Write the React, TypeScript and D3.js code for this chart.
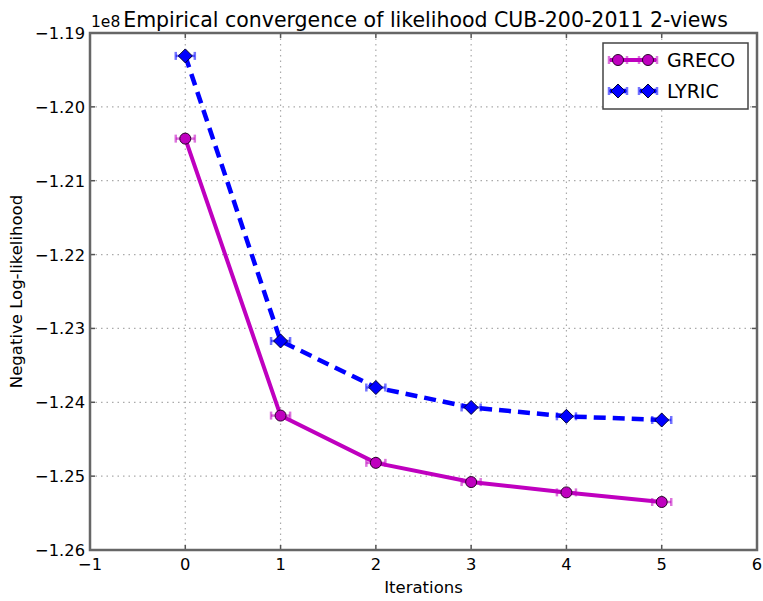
import React from 'react'
import * as d3 from 'd3'

const iterations = [0, 1, 2, 3, 4, 5]
const grecoValues = [-1.2043, -1.2418, -1.2482, -1.2508, -1.2522, -1.2535]
const lyricValues = [-1.1931, -1.2317, -1.238, -1.2407, -1.2419, -1.2424]
const xTicks = [-1, 0, 1, 2, 3, 4, 5, 6]
const yTicks = [-1.19, -1.2, -1.21, -1.22, -1.23, -1.24, -1.25, -1.26]
const xErr = 0.1

const W = 763
const H = 601
const margin = { left: 90, right: 6, top: 33, bottom: 51 }
const font = 'DejaVu Sans, sans-serif'

export default function App() {
  const x = d3.scaleLinear().domain([-1, 6]).range([margin.left, W - margin.right])
  const y = d3.scaleLinear().domain([-1.26, -1.19]).range([H - margin.bottom, margin.top])
  const line = d3
    .line<number>()
    .x((_, i) => x(iterations[i]))
    .y((d) => y(d))

  const errBars = (vals: number[], color: string) =>
    vals.map((v, i) => {
      const x0 = x(iterations[i] - xErr)
      const x1 = x(iterations[i] + xErr)
      const yy = y(v)
      return (
        <g key={i} stroke={color} strokeOpacity={0.55} strokeWidth={2.5}>
          <line x1={x0} x2={x1} y1={yy} y2={yy} />
          <line x1={x0} x2={x0} y1={yy - 4} y2={yy + 4} />
          <line x1={x1} x2={x1} y1={yy - 4} y2={yy + 4} />
        </g>
      )
    })

  const diamond = (cx: number, cy: number, key: number | string) => (
    <path
      key={key}
      d={`M${cx},${cy - 7}L${cx + 7},${cy}L${cx},${cy + 7}L${cx - 7},${cy}Z`}
      fill="#0000ff"
      stroke="#000033"
      strokeWidth={1}
    />
  )
  const circle = (cx: number, cy: number, key: number | string) => (
    <circle key={key} cx={cx} cy={cy} r={5.5} fill="#bf00bf" stroke="#2a002a" strokeWidth={1} />
  )

  const x0 = margin.left
  const x1 = W - margin.right
  const y0 = margin.top
  const y1 = H - margin.bottom

  return (
    <svg
      width={W}
      height={H}
      style={{ position: 'absolute', left: 0, top: 0, background: '#fff' }}
      fontFamily={font}
    >
      {/* grid */}
      <g stroke="#aaaaaa" strokeWidth={1.2} strokeDasharray="1.5,4">
        {xTicks.slice(1, -1).map((t) => (
          <line key={'gx' + t} x1={x(t)} x2={x(t)} y1={y0} y2={y1} />
        ))}
        {yTicks.slice(1, -1).map((t) => (
          <line key={'gy' + t} x1={x0} x2={x1} y1={y(t)} y2={y(t)} />
        ))}
      </g>

      {/* series */}
      {errBars(grecoValues, '#bf00bf')}
      <path d={line(grecoValues) || ''} fill="none" stroke="#bf00bf" strokeWidth={4} />
      {grecoValues.map((v, i) => circle(x(iterations[i]), y(v), i))}

      {errBars(lyricValues, '#0000ff')}
      <path
        d={line(lyricValues) || ''}
        fill="none"
        stroke="#0000ff"
        strokeWidth={4.5}
        strokeDasharray="12,7"
      />
      {lyricValues.map((v, i) => diamond(x(iterations[i]), y(v), i))}

      {/* frame and ticks */}
      <g stroke="#555" strokeWidth={1.5}>
        {xTicks.slice(1, -1).map((t) => (
          <g key={'tx' + t}>
            <line x1={x(t)} x2={x(t)} y1={y1} y2={y1 - 5} />
            <line x1={x(t)} x2={x(t)} y1={y0} y2={y0 + 5} />
          </g>
        ))}
        {yTicks.slice(1, -1).map((t) => (
          <g key={'ty' + t}>
            <line x1={x0} x2={x0 + 5} y1={y(t)} y2={y(t)} />
            <line x1={x1} x2={x1 - 5} y1={y(t)} y2={y(t)} />
          </g>
        ))}
      </g>
      <rect x={x0} y={y0} width={x1 - x0} height={y1 - y0} fill="none" stroke="#666" strokeWidth={2.5} />

      {/* tick labels */}
      <g fontSize={16.3} fill="#000">
        {xTicks.map((t) => (
          <text key={'lx' + t} x={x(t)} y={y1 + 20} textAnchor="middle">
            {d3.format('')(t).replace('-', '\u2212')}
          </text>
        ))}
        {yTicks.map((t) => (
          <text key={'ly' + t} x={x0 - 5} y={y(t) + 6} textAnchor="end">
            {d3.format('.2f')(t).replace('-', '\u2212')}
          </text>
        ))}
      </g>
      <text x={x0 + 1} y={y0 - 6} fontSize={15.5}>1e8</text>

      {/* title and labels */}
      <text x={(x0 + x1) / 2 + 2} y={y0 - 6} textAnchor="middle" fontSize={20.5}>
        Empirical convergence of likelihood CUB-200-2011 2-views
      </text>
      <text x={(x0 + x1) / 2} y={593} textAnchor="middle" fontSize={16.5}>
        Iterations
      </text>
      <text
        transform={`translate(22,${(y0 + y1) / 2}) rotate(-90)`}
        textAnchor="middle"
        fontSize={16.5}
      >
        Negative Log-likelihood
      </text>

      {/* legend */}
      <g>
        <rect x={603} y={43} width={145} height={66} fill="#fff" stroke="#444" strokeWidth={1.5} />
        <g stroke="#bf00bf" strokeOpacity={0.55} strokeWidth={2.5}>
          {[618, 648].map((cx) => (
            <g key={cx}>
              <line x1={cx - 9} x2={cx + 9} y1={60} y2={60} />
              <line x1={cx - 9} x2={cx - 9} y1={56} y2={64} />
              <line x1={cx + 9} x2={cx + 9} y1={56} y2={64} />
            </g>
          ))}
        </g>
        <line x1={610} x2={656} y1={60} y2={60} stroke="#bf00bf" strokeWidth={4} />
        {circle(618, 60, 'lg1')}
        {circle(648, 60, 'lg2')}
        <text x={667} y={67} fontSize={19}>GRECO</text>

        <g stroke="#0000ff" strokeOpacity={0.55} strokeWidth={2.5}>
          {[618, 648].map((cx) => (
            <g key={cx}>
              <line x1={cx - 9} x2={cx + 9} y1={91} y2={91} />
              <line x1={cx - 9} x2={cx - 9} y1={87} y2={95} />
              <line x1={cx + 9} x2={cx + 9} y1={87} y2={95} />
            </g>
          ))}
        </g>
        <line x1={610} x2={626} y1={91} y2={91} stroke="#0000ff" strokeWidth={4.5} />
        <line x1={640} x2={656} y1={91} y2={91} stroke="#0000ff" strokeWidth={4.5} />
        {diamond(618, 91, 'ld1')}
        {diamond(648, 91, 'ld2')}
        <text x={667} y={98} fontSize={19}>LYRIC</text>
      </g>
    </svg>
  )
}
